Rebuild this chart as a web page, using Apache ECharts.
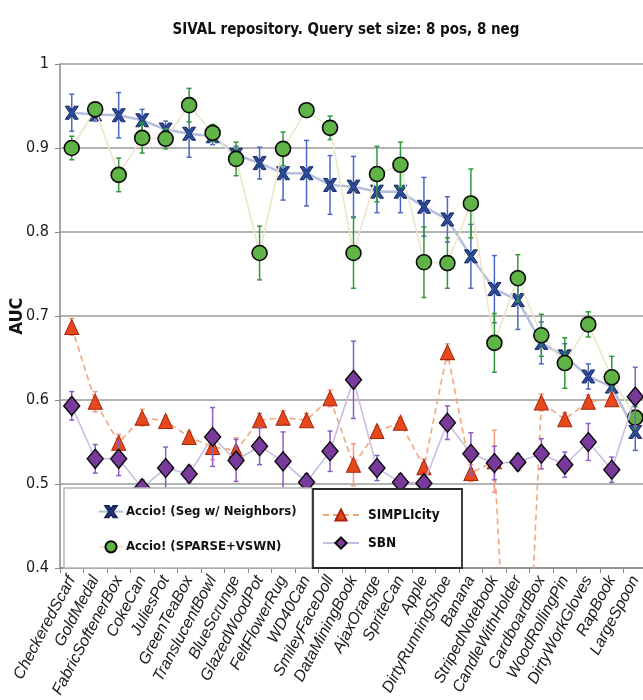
<!DOCTYPE html>
<html>
<head>
<meta charset="utf-8">
<script src="https://cdn.jsdelivr.net/npm/echarts@6/dist/echarts.min.js"></script>
<style>html,body{margin:0;padding:0;background:#fff}#c{width:643px;height:700px}</style>
</head>
<body>
<div id="c"></div>
<script>
const categories = ['CheckeredScarf','GoldMedal','FabricSoftenerBox','CokeCan','JuliesPot','GreenTeaBox','TranslucentBowl','BlueScrunge','GlazedWoodPot','FeltFlowerRug','WD40Can','SmileyFaceDoll','DataMiningBook','AjaxOrange','SpriteCan','Apple','DirtyRunningShoe','Banana','StripedNotebook','CandleWithHolder','CardboardBox','WoodRollingPin','DirtyWorkGloves','RapBook','LargeSpoon'];
const yTicks = [0.4, 0.5, 0.6, 0.7, 0.8, 0.9, 1];

const segValues = [0.942,0.940,0.939,0.933,0.922,0.917,0.914,0.892,0.882,0.870,0.870,0.856,0.854,0.848,0.848,0.830,0.815,0.771,0.732,0.719,0.668,0.652,0.628,0.616,0.562];
const segErr    = [0.022,0.008,0.027,0.013,0.010,0.028,0.010,0.010,0.019,0.032,0.039,0.035,0.036,0.025,0.025,0.035,0.027,0.038,0.040,0.035,0.025,0.015,0.015,0.012,0.022];

const sparseValues = [0.900,0.946,0.868,0.912,0.911,0.951,0.918,0.887,0.775,0.899,0.945,0.924,0.775,0.869,0.880,0.764,0.763,0.834,0.668,0.745,0.677,0.644,0.690,0.627,0.579];
const sparseErr    = [0.014,0.008,0.020,0.018,0.012,0.020,0.010,0.020,0.032,0.020,0.006,0.014,0.042,0.033,0.027,0.042,0.030,0.041,0.035,0.028,0.025,0.030,0.015,0.025,0.013];

const simpValues = [0.687,0.598,0.549,0.579,0.575,0.556,0.544,0.540,0.576,0.579,0.576,0.602,0.523,0.563,0.573,0.520,0.657,0.513,0.527,0.0,0.597,0.577,0.598,0.601,null];
const simpErr    = [0.010,0.012,0.010,0.010,0.006,0.006,0.015,0.015,0.008,0.008,0.008,0.010,0.025,0.006,0.006,0.010,0.010,0.010,0.037,0.0,0.010,0.008,0.008,0.008,null];

const sbnValues = [0.593,0.530,0.530,0.495,0.519,0.512,0.556,0.528,0.545,0.527,0.502,0.539,0.624,0.519,0.502,0.501,0.573,0.536,0.525,0.526,0.536,0.523,0.550,0.517,0.604];
const sbnErr    = [0.017,0.017,0.020,0.010,0.025,0.010,0.035,0.025,0.022,0.035,0.010,0.024,0.046,0.015,0.010,0.010,0.020,0.025,0.020,0.010,0.018,0.015,0.022,0.015,0.035];

const seriesNames = ['Accio! (Seg w/ Neighbors)','Accio! (SPARSE+VSWN)','SIMPLIcity','SBN'];

const FONT = '"Liberation Sans Narrow","DejaVu Sans Condensed","Liberation Sans",Arial,sans-serif';
const FONT_REG = '"Liberation Sans",Arial,sans-serif';
const xPath = 'path://M0,0 L3,0 L5,3.2 L7,0 L10,0 L6.6,5 L10,10 L7,10 L5,6.8 L3,10 L0,10 L3.4,5 Z';

function errData(vals, errs) {
  const out = [];
  vals.forEach((v, i) => { if (v !== null && errs[i] !== null) out.push([i, v, errs[i]]); });
  return out;
}
function errSeries(vals, errs, color, z) {
  return {
    type: 'custom', z: z, silent: true, clip: true,
    data: errData(vals, errs),
    renderItem: function (params, api) {
      const i = api.value(0), v = api.value(1), e = api.value(2);
      const top = api.coord([i, v + e]);
      const bot = api.coord([i, v - e]);
      const st = { stroke: color, lineWidth: 1.5 };
      const cw = 2.5;
      return { type: 'group', children: [
        { type: 'line', shape: { x1: top[0], y1: top[1], x2: bot[0], y2: bot[1] }, style: st },
        { type: 'line', shape: { x1: top[0]-cw, y1: top[1], x2: top[0]+cw, y2: top[1] }, style: st },
        { type: 'line', shape: { x1: bot[0]-cw, y1: bot[1], x2: bot[0]+cw, y2: bot[1] }, style: st }
      ]};
    }
  };
}

const chart = echarts.init(document.getElementById('c'), null, { renderer: 'canvas' });
chart.setOption({
  backgroundColor: '#ffffff',
  animation: false,
  title: {
    text: 'SIVAL repository. Query set size: 8 pos, 8 neg',
    left: 341, top: 18, textAlign: 'center',
    textStyle: { fontFamily: FONT, fontWeight: 'bold', fontSize: 15, color: '#111' }
  },
  grid: { left: 60, top: 64, width: 587, height: 504, containLabel: false, outerBoundsMode: 'none' },
  xAxis: {
    type: 'category', data: categories, boundaryGap: true,
    axisLine: { lineStyle: { color: '#888', width: 1.5 } },
    axisTick: { show: true, length: 5, lineStyle: { color: '#888' } },
    axisLabel: { interval: 0, rotate: 62, margin: 9, fontFamily: FONT_REG, fontStyle: 'italic', fontSize: 16, color: '#1a1a1a' }
  },
  yAxis: {
    type: 'value', min: 0.4, max: 1, interval: 0.1,
    name: 'AUC', nameLocation: 'middle', nameGap: 34, nameRotate: 90, nameMoveOverlap: false,
    nameTextStyle: { fontFamily: FONT, fontWeight: 'bold', fontSize: 18, color: '#111' },
    axisLine: { show: true, lineStyle: { color: '#888', width: 1.5 } },
    axisTick: { show: true, length: 5, lineStyle: { color: '#888' } },
    axisLabel: { fontFamily: FONT, fontSize: 16, color: '#1a1a1a', margin: 11,
      formatter: function (v) { const t = yTicks.find(x => Math.abs(x - v) < 1e-6); return t === 1 ? '1' : (t !== undefined ? t.toFixed(1) : ''); } },
    splitLine: { lineStyle: { color: '#9a9a9a', width: 1.5 } }
  },
  legend: [
    { data: [seriesNames[0], seriesNames[1]], orient: 'vertical', left: 98, top: 505, itemWidth: 24, itemHeight: 14, itemGap: 22, z: 60,
      selectedMode: false, padding: 0,
      textStyle: { fontFamily: FONT, fontWeight: 'bold', fontSize: 13, color: '#111', padding: [0,0,0,-2] } },
    { data: [seriesNames[2], seriesNames[3]], orient: 'vertical', left: 322, top: 508, itemWidth: 36, itemHeight: 14, itemGap: 14, z: 60,
      selectedMode: false, padding: 0,
      textStyle: { fontFamily: FONT, fontWeight: 'bold', fontSize: 13.5, color: '#111', padding: [0,0,0,4] } }
  ],
  graphic: [
    { type: 'rect', z: 50, shape: { x: 64, y: 488, width: 248, height: 80 }, style: { fill: '#fff', stroke: '#b5b5b5', lineWidth: 1.5 } },
    { type: 'rect', z: 51, shape: { x: 313, y: 489, width: 149, height: 79 }, style: { fill: '#fff', stroke: '#2a2a2a', lineWidth: 1.8 } }
  ],
  series: [
    errSeries(segValues, segErr, '#4a68c4', 2),
    { name: seriesNames[0], type: 'line', z: 3, data: segValues, symbol: xPath, symbolSize: 13,
      lineStyle: { color: '#b4bedd', width: 2.5 },
      itemStyle: { color: '#2c4c9c', borderColor: '#17275e', borderWidth: 1 } },
    errSeries(sparseValues, sparseErr, '#2f9a3a', 4),
    { name: seriesNames[1], type: 'line', z: 5, data: sparseValues, symbol: 'circle', symbolSize: 15,
      lineStyle: { color: '#ebe6c6', width: 1.5 },
      itemStyle: { color: '#5fb347', borderColor: '#0a0a0a', borderWidth: 1.6 } },
    errSeries(simpValues, simpErr, '#f09a80', 6),
    { name: seriesNames[2], type: 'line', z: 7, data: simpValues, symbol: 'triangle', symbolSize: [14, 15], connectNulls: false,
      lineStyle: { color: '#f2a77a', width: 1.6, type: [6, 4] },
      itemStyle: { color: '#e6481c', borderColor: '#a8250e', borderWidth: 1 } },
    errSeries(sbnValues, sbnErr, '#8e5cc0', 8),
    { name: seriesNames[3], type: 'line', z: 9, data: sbnValues, symbol: 'diamond', symbolSize: [16, 19],
      lineStyle: { color: '#c9bde2', width: 1.6 },
      itemStyle: { color: '#7a3a9c', borderColor: '#0a0a0a', borderWidth: 1.4 } }
  ]
});
</script>
</body>
</html>
